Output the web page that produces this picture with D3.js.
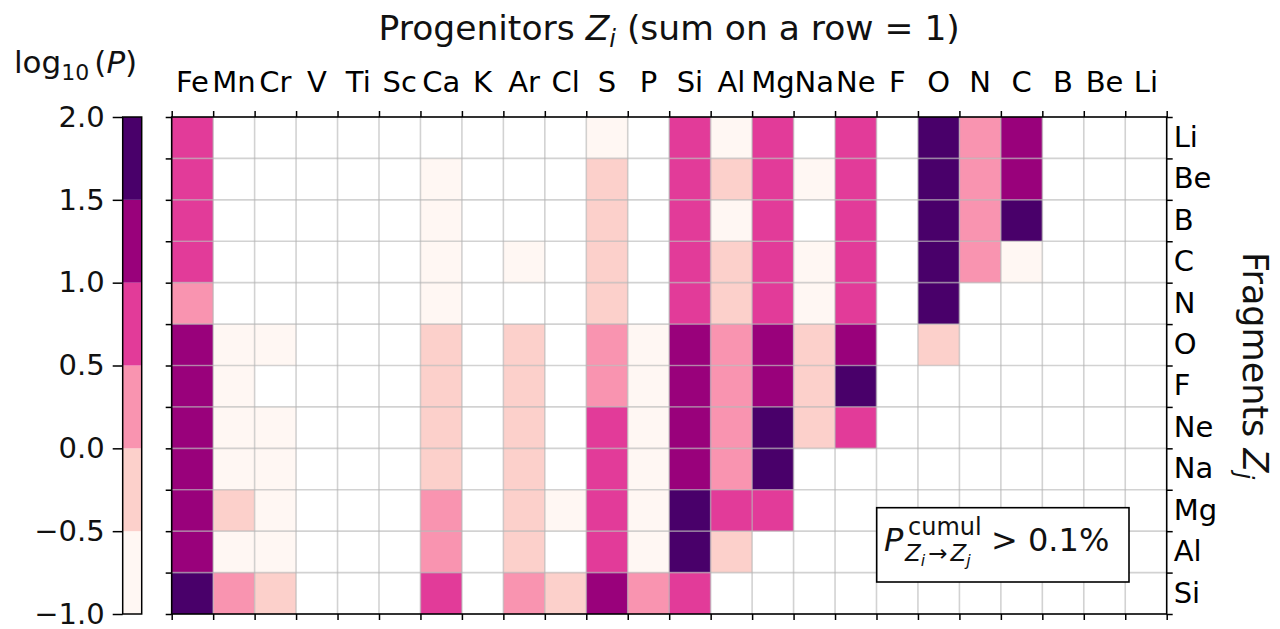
<!DOCTYPE html>
<html>
<head>
<meta charset="utf-8">
<script src="https://cdn.jsdelivr.net/npm/d3@7"></script>
<style>
  body { margin: 0; background: #fff; }
  svg { display: block; font-family: "DejaVu Sans", sans-serif; }
</style>
</head>
<body>
<svg id="chart" width="1280" height="629"></svg>
<script>
// Progenitor charges (columns) and fragment charges (rows)
const progenitors = ["Fe","Mn","Cr","V","Ti","Sc","Ca","K","Ar","Cl","S","P","Si","Al","Mg","Na","Ne","F","O","N","C","B","Be","Li"];
const fragments = ["Li","Be","B","C","N","O","F","Ne","Na","Mg","Al","Si"];

// Colour bar ticks and class boundaries of log10(P)
const colorTicks = [-1.0, -0.5, 0.0, 0.5, 1.0, 1.5, 2.0];
const binEdges = [-0.5, 0.0, 0.5, 1.0, 1.5];
const binColors = ["#fff7f3", "#fcd0cb", "#f994b0", "#e23b99", "#99017b", "#49006a"];

// log10(P) per fragment, one entry per progenitor column (null: below 0.1%)
const _ = null;
const rowLi = [0.75,_,_,_,_,_,_,_,_,_,-0.75,_,0.75,-0.75,0.75,_,0.75,_,1.75,0.25,1.25,_,_,_];
const rowBe = [0.75,_,_,_,_,_,-0.75,_,_,_,-0.25,_,0.75,-0.25,0.75,-0.75,0.75,_,1.75,0.25,1.25,_,_,_];
const rowB  = [0.75,_,_,_,_,_,-0.75,_,_,_,-0.25,_,0.75,-0.75,0.75,_,0.75,_,1.75,0.25,1.75,_,_,_];
const rowC  = [0.75,_,_,_,_,_,-0.75,_,-0.75,_,-0.25,_,0.75,-0.25,0.75,-0.75,0.75,_,1.75,0.25,-0.75,_,_,_];
const rowN  = [0.25,_,_,_,_,_,-0.75,_,_,_,-0.25,_,0.75,-0.25,0.75,-0.75,0.75,_,1.75,_,_,_,_,_];
const rowO  = [1.25,-0.75,-0.75,_,_,_,-0.25,_,-0.25,_,0.25,-0.75,1.25,0.25,1.25,-0.25,1.25,_,-0.25,_,_,_,_,_];
const rowF  = [1.25,-0.75,_,_,_,_,-0.25,_,-0.25,_,0.25,-0.75,1.25,0.25,1.25,-0.25,1.75,_,_,_,_,_,_,_];
const rowNe = [1.25,-0.75,-0.75,_,_,_,-0.25,_,-0.25,_,0.75,-0.75,1.25,0.25,1.75,-0.25,0.75,_,_,_,_,_,_,_];
const rowNa = [1.25,-0.75,-0.75,_,_,_,-0.25,_,-0.25,_,0.75,-0.75,1.25,0.25,1.75,_,_,_,_,_,_,_,_,_];
const rowMg = [1.25,-0.25,-0.75,_,_,_,0.25,_,-0.25,-0.75,0.75,-0.75,1.75,0.75,0.75,_,_,_,_,_,_,_,_,_];
const rowAl = [1.25,-0.75,-0.75,_,_,_,0.25,_,-0.25,_,0.75,-0.75,1.75,-0.25,_,_,_,_,_,_,_,_,_,_];
const rowSi = [1.75,0.25,-0.25,_,_,_,0.75,_,0.25,-0.25,1.25,0.25,0.75,_,_,_,_,_,_,_,_,_,_,_];

const log10P = [rowLi,rowBe,rowB,rowC,rowN,rowO,rowF,rowNe,rowNa,rowMg,rowAl,rowSi];

const svg = d3.select("#chart");

// Plot frame
const X0 = 171.7, X1 = 1166.7, Y0 = 117, Y1 = 614;
const x = d3.scaleBand().domain(progenitors).range([X0, X1]).paddingInner(0).paddingOuter(0);
const y = d3.scaleBand().domain(fragments).range([Y0, Y1]).paddingInner(0).paddingOuter(0);
const xEdge = d3.scaleLinear().domain([0, progenitors.length]).range([X0, X1]);
const yEdge = d3.scaleLinear().domain([0, fragments.length]).range([Y0, Y1]);
const color = d3.scaleThreshold().domain(binEdges).range(binColors);

// Cells
const cells = [];
log10P.forEach((row, j) => row.forEach((v, i) => {
  if (v !== null) cells.push({ frag: fragments[j], prog: progenitors[i], v });
}));
svg.append("g").selectAll("rect").data(cells).join("rect")
  .attr("x", d => x(d.prog))
  .attr("y", d => y(d.frag))
  .attr("width", x.bandwidth())
  .attr("height", y.bandwidth())
  .attr("fill", d => color(d.v));

// Grid over the cells
const grid = svg.append("g").attr("stroke", "#b4b4b4").attr("stroke-opacity", 0.6).attr("stroke-width", 1.6);
d3.range(1, progenitors.length).forEach(k => {
  grid.append("line").attr("x1", xEdge(k)).attr("x2", xEdge(k)).attr("y1", Y0).attr("y2", Y1);
});
d3.range(1, fragments.length).forEach(k => {
  grid.append("line").attr("x1", X0).attr("x2", X1).attr("y1", yEdge(k)).attr("y2", yEdge(k));
});

// Tick marks at cell boundaries
function styleAxis(g) {
  g.select(".domain").remove();
  g.selectAll(".tick line").attr("stroke", "#000").attr("stroke-width", 1.5);
}
const edgeX = d3.range(progenitors.length + 1);
const edgeY = d3.range(fragments.length + 1);
svg.append("g").attr("transform", `translate(0,${Y0})`)
  .call(d3.axisTop(xEdge).tickValues(edgeX).tickFormat("").tickSize(6)).call(styleAxis);
svg.append("g").attr("transform", `translate(0,${Y1})`)
  .call(d3.axisBottom(xEdge).tickValues(edgeX).tickFormat("").tickSize(6)).call(styleAxis);
svg.append("g").attr("transform", `translate(${X0},0)`)
  .call(d3.axisLeft(yEdge).tickValues(edgeY).tickFormat("").tickSize(6)).call(styleAxis);
svg.append("g").attr("transform", `translate(${X1},0)`)
  .call(d3.axisRight(yEdge).tickValues(edgeY).tickFormat("").tickSize(6)).call(styleAxis);

// Labels at cell centres
const topLabels = svg.append("g").attr("transform", `translate(0,${Y0})`)
  .call(d3.axisTop(x).tickSize(0).tickPadding(25));
topLabels.select(".domain").remove();
topLabels.selectAll("text").attr("font-size", 29).attr("fill", "#000").attr("font-family", "DejaVu Sans");

const rightLabels = svg.append("g").attr("transform", `translate(${X1},0)`)
  .call(d3.axisRight(y).tickSize(0).tickPadding(7));
rightLabels.select(".domain").remove();
rightLabels.selectAll("text").attr("font-size", 29).attr("fill", "#000").attr("font-family", "DejaVu Sans");

// Spines
svg.append("rect").attr("x", X0).attr("y", Y0).attr("width", X1 - X0).attr("height", Y1 - Y0)
  .attr("fill", "none").attr("stroke", "#000").attr("stroke-width", 1.6);

// Title
const title = svg.append("text").attr("x", (X0 + X1) / 2).attr("y", 40)
  .attr("text-anchor", "middle").attr("font-size", 34.5).attr("fill", "#111");
title.append("tspan").text("Progenitors ");
title.append("tspan").attr("font-style", "italic").text("Z");
title.append("tspan").attr("font-style", "italic").attr("font-size", 24).attr("dy", 7).text("i");
title.append("tspan").attr("dy", -7).text(" (sum on a row = 1)");

// Right axis title
const ylab = svg.append("text").attr("transform", `translate(1243,${(Y0 + Y1) / 2}) rotate(90)`)
  .attr("text-anchor", "middle").attr("font-size", 35).attr("fill", "#111");
ylab.append("tspan").text("Fragments ");
ylab.append("tspan").attr("font-style", "italic").text("Z");
ylab.append("tspan").attr("font-style", "italic").attr("font-size", 24).attr("dy", 7).text("j");

// Colour bar
const CB0 = 122.7, CB1 = 141.7;
const cbScale = d3.scaleLinear().domain([colorTicks[0], colorTicks[colorTicks.length - 1]]).range([Y1, Y0]);
const bins = d3.pairs([colorTicks[0], ...binEdges, colorTicks[colorTicks.length - 1]]);
svg.append("g").selectAll("rect").data(bins).join("rect")
  .attr("x", CB0).attr("width", CB1 - CB0)
  .attr("y", d => cbScale(d[1])).attr("height", d => cbScale(d[0]) - cbScale(d[1]))
  .attr("fill", (d, i) => binColors[i]);
svg.append("rect").attr("x", CB0).attr("y", Y0).attr("width", CB1 - CB0).attr("height", Y1 - Y0)
  .attr("fill", "none").attr("stroke", "#000").attr("stroke-width", 1.5);
const cbAxis = svg.append("g").attr("transform", `translate(${CB0},0)`)
  .call(d3.axisLeft(cbScale).tickValues(colorTicks).tickFormat(d3.format(".1f")).tickSize(10).tickPadding(8));
cbAxis.select(".domain").remove();
cbAxis.selectAll(".tick line").attr("stroke", "#000").attr("stroke-width", 1.5);
cbAxis.selectAll("text").attr("font-size", 29).attr("fill", "#111").attr("font-family", "DejaVu Sans");

// Colour bar label: log10(P)
const cbl = svg.append("text").attr("x", 14).attr("y", 73).attr("font-size", 31).attr("fill", "#111");
cbl.append("tspan").text("log");
cbl.append("tspan").attr("font-size", 22).attr("dy", 7).text("10");
cbl.append("tspan").attr("dy", -7).attr("dx", 5).text("(");
cbl.append("tspan").attr("font-style", "italic").text("P");
cbl.append("tspan").text(")");

// Threshold annotation box
const box = svg.append("g");
box.append("rect").attr("x", 876.7).attr("y", 507.7).attr("width", 252.3).attr("height", 74.3)
  .attr("fill", "#fff").attr("stroke", "#000").attr("stroke-width", 1.6);
box.append("text").attr("x", 884).attr("y", 551).attr("font-size", 32).attr("font-style", "italic").attr("fill", "#111").text("P");
box.append("text").attr("x", 908).attr("y", 535).attr("font-size", 24).attr("fill", "#111").text("cumul");
const sub = box.append("text").attr("x", 905).attr("y", 561).attr("font-size", 23).attr("fill", "#111");
sub.append("tspan").attr("font-style", "italic").text("Z");
sub.append("tspan").attr("font-style", "italic").attr("font-size", 16).attr("dy", 5).text("i");
sub.append("tspan").attr("dy", -5).attr("dx", 3).text("\u2192");
sub.append("tspan").attr("dx", 3).attr("font-style", "italic").text("Z");
sub.append("tspan").attr("font-style", "italic").attr("font-size", 16).attr("dy", 5).text("j");
box.append("text").attr("x", 991).attr("y", 551).attr("font-size", 32).attr("fill", "#111").text("> 0.1%");
</script>
</body>
</html>
